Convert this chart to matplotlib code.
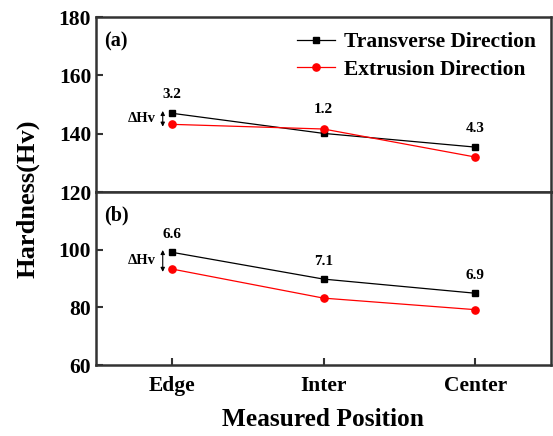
import matplotlib
matplotlib.use("Agg")
import matplotlib.pyplot as plt

positions = ["Edge", "Inter", "Center"]
trans_a = [147.0, 140.1, 135.4]
extr_a = [143.2, 141.6, 132.0]
trans_b = [99.1, 89.8, 84.9]
extr_b = [93.3, 83.2, 79.2]
diff_a = ["3.2", "1.2", "4.3"]
diff_b = ["6.6", "7.1", "6.9"]

plt.rcParams['font.family'] = ['Liberation Serif', 'DejaVu Serif']
plt.rcParams['font.weight'] = 'bold'

fig = plt.figure(figsize=(5.53, 4.36), dpi=100)
L, W = 0.1736, 0.8228
ax1 = fig.add_axes([L, 0.5596, W, 0.4014])
ax2 = fig.add_axes([L, 0.1628, W, 0.3968])

x = list(range(len(positions)))
spine_col = '#333333'
for ax in (ax1, ax2):
    for s in ax.spines.values():
        s.set_linewidth(1.8)
        s.set_color(spine_col)
    ax.set_xlim(-0.5, 2.5)
    ax.tick_params(direction='in', length=5, width=1.5, labelsize=15.5, color=spine_col)

ax1.plot(x, trans_a, '-s', color='black', lw=0.9, ms=4.6, label='Transverse Direction')
ax1.plot(x, extr_a, '-o', color='red', lw=0.9, ms=5.2, label='Extrusion Direction')
ax2.plot(x, trans_b, '-s', color='black', lw=0.9, ms=4.6)
ax2.plot(x, extr_b, '-o', color='red', lw=0.9, ms=5.2)

ax1.set_ylim(120, 180)
ax1.set_yticks([140, 160, 180])
ax1.set_xticks([])
ax2.set_ylim(60, 120)
ax2.set_yticks([60, 80, 100, 120])
ax2.set_xticks(x)
ax2.set_xticklabels(positions, fontsize=15.5, fontweight='bold')
ax2.tick_params(axis='x', pad=8)
for ax in (ax1, ax2):
    for lab in ax.get_yticklabels():
        lab.set_fontweight('bold')

# difference labels
for i in x:
    ax1.text(i, max(trans_a[i], extr_a[i]) + 4.3, diff_a[i], ha='center', va='bottom', fontsize=11, fontweight='bold')
    ax2.text(i, max(trans_b[i], extr_b[i]) + 4.0, diff_b[i], ha='center', va='bottom', fontsize=11, fontweight='bold')

# delta Hv arrows
ax1.annotate('', xy=(-0.06, extr_a[0] - 0.8), xytext=(-0.06, trans_a[0] + 0.8),
             arrowprops=dict(arrowstyle='<|-|>', color='black', lw=0.8, mutation_scale=6, shrinkA=0, shrinkB=0))
ax1.text(-0.2, (trans_a[0] + extr_a[0]) / 2, '\u0394Hv', ha='center', va='center', fontsize=10.5, fontweight='bold')
ax2.annotate('', xy=(-0.06, extr_b[0] - 1.0), xytext=(-0.06, trans_b[0] + 0.8),
             arrowprops=dict(arrowstyle='<|-|>', color='black', lw=0.8, mutation_scale=6, shrinkA=0, shrinkB=0))
ax2.text(-0.2, (trans_b[0] + extr_b[0]) / 2, '\u0394Hv', ha='center', va='center', fontsize=10.5, fontweight='bold')

ax1.text(0.018, 0.92, '(a)', transform=ax1.transAxes, fontsize=14.5, fontweight='bold', va='top')
ax2.text(0.018, 0.92, '(b)', transform=ax2.transAxes, fontsize=14.5, fontweight='bold', va='top')

leg = ax1.legend(loc='upper right', frameon=False, prop={'weight': 'bold', 'size': 15.5},
                 handlelength=1.8, handletextpad=0.4, labelspacing=0.35, borderaxespad=0.3)

fig.text(0.05, 0.545, 'Hardness(Hv)', rotation=90, ha='center', va='center', fontsize=19, fontweight='bold')
fig.text(0.584, 0.037, 'Measured Position', ha='center', va='center', fontsize=18.3, fontweight='bold')

fig.savefig('out.png', dpi=100)
